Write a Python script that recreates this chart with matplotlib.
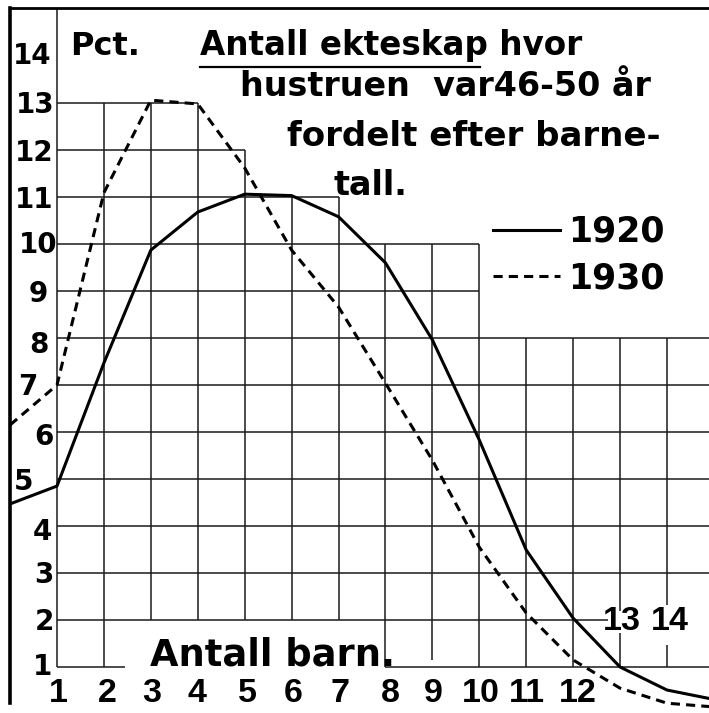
import matplotlib
matplotlib.use('Agg')
import matplotlib.pyplot as plt
from matplotlib import font_manager
from matplotlib.lines import Line2D

# ---------------- data ----------------
children = [0, 1, 2, 3, 4, 5, 6, 7, 8, 9, 10, 11, 12, 13, 14, 15]
pct_1920 = [4.47, 4.85, 7.47, 9.87, 10.68, 11.06, 11.03, 10.58, 9.60, 7.96, 5.83, 3.49, 2.04, 1.00, 0.51, 0.31]
pct_1930 = [6.15, 7.00, 11.09, 13.06, 12.98, 11.62, 9.87, 8.66, 7.04, 5.40, 3.55, 2.15, 1.15, 0.55, 0.23, 0.15]
series_labels = ["1920", "1930"]
y_tick_labels = ["1", "2", "3", "4", "5", "6", "7", "8", "9", "10", "11", "12", "13", "14"]
x_tick_labels = ["1", "2", "3", "4", "5", "6", "7", "8", "9", "10", "11", "12"]
x_tick_labels_upper = ["13", "14"]
unit_label = "Pct."
x_axis_label = "Antall barn."
title_lines = ["Antall ekteskap hvor", "hustruen  var46-50 år", "fordelt efter barne-", "tall."]

# ---------------- layout ----------------
W, H = 709, 713
fig = plt.figure(figsize=(W / 100, H / 100), dpi=100)
fig.patch.set_facecolor('white')

X0PX = 10.08      # pixel of x = 0
XU = 46.92        # pixels per x unit
Y1PX = 667.0      # pixel of y = 1
YU = 47.0         # pixels per y unit
TOPPX = 8.0

xmax = (W - X0PX) / XU
ymin = 1 - (H - Y1PX) / YU
ymax = 1 + (Y1PX - TOPPX) / YU

ax = fig.add_axes([X0PX / W, 0, 1 - X0PX / W, (H - TOPPX) / H])
ax.set_xlim(0, xmax)
ax.set_ylim(ymin, ymax)
ax.set_xticks([])
ax.set_yticks([])
ax.patch.set_alpha(0)
for s in ['right', 'bottom']:
    ax.spines[s].set_visible(False)
ax.spines['left'].set_linewidth(2.6)
ax.spines['top'].set_linewidth(2.0)
ax.spines['left'].set_bounds(0.23, ymax)


def fx(px):
    return px / W


def fy(py):
    return 1 - py / H


names = {f.name for f in font_manager.fontManager.ttflist}
BOLD = 'DejaVu Sans'
NUMFAM = ['Liberation Sans', 'DejaVu Sans'] if 'Liberation Sans' in names else ['DejaVu Sans']
XFS = 24.5
XH = 0.716

# ---------------- grid (stepped) ----------------
gcol = '#1a1a1a'
glw = 1.1
vsegs = [(1, 1, ymax), (2, 1, 13), (3, 2, 13), (4, 2, 13), (5, 2, 12), (6, 2, 11),
         (7, 2, 11), (8, 1, 10), (9, 1.15, 10), (10, 1, 10), (11, 1, 8), (12, 1, 8),
         (13, 1, 1.72), (13, 2.2, 8), (14, 1, 1.47), (14, 2.32, 8)]
for x, a, b in vsegs:
    ax.vlines(x, a, b, color=gcol, lw=glw, zorder=1)
hsegs = [(13, 1, 4), (12, 1, 5), (11, 1, 7), (10, 1, 10), (9, 1, 10)] + \
        [(y, 1, xmax) for y in (8, 7, 6, 5, 4, 3)] + \
        [(2, 1, 12.74), (1, 1, 2.45), (1, 8, xmax)]
for y, a, b in hsegs:
    ax.hlines(y, a, b, color=gcol, lw=glw, zorder=1)

# ---------------- curves ----------------
l1, = ax.plot(children, pct_1920, color='black', lw=2.2, solid_joinstyle='round',
              zorder=3, label=series_labels[0])
l2, = ax.plot(children, pct_1930, color='black', lw=2.2, dashes=(3.0, 2.0),
              zorder=3, label=series_labels[1])

leg = ax.legend(handles=[l1, l2], labels=series_labels, loc='upper left',
                bbox_to_anchor=(fx(493), fy(215)), bbox_transform=fig.transFigure,
                frameon=False, borderpad=0, borderaxespad=0, handlelength=1.93,
                handletextpad=0.23, labelspacing=0.36,
                prop={'family': BOLD, 'weight': 'bold', 'size': 25})

# ---------------- tick labels ----------------
ytl_pos = {"14": (32, 54), "13": (35, 103), "12": (34, 151), "11": (34, 198),
           "10": (38, 243), "9": (38, 292), "8": (39, 343), "7": (28, 385),
           "6": (44, 435), "5": (24, 480), "4": (42, 530), "3": (44, 573),
           "2": (44, 620), "1": (43, 665)}
YFS = 20
for lab in y_tick_labels:
    cx, cy = ytl_pos[lab]
    fig.text(fx(cx), fy(cy + 0.729 * YFS * 100 / 72 / 2), lab, ha='center', va='baseline',
             family=BOLD, weight='bold', fontsize=YFS)

xtl_px = [58, 107, 152, 197, 247, 293, 340, 390, 433, 481, 527, 578]
xb = 690 + XH * XFS * 100 / 72 / 2
for lab, cx in zip(x_tick_labels, xtl_px):
    fig.text(fx(cx), fy(xb), lab, ha='center', va='baseline',
             family=NUMFAM, weight='bold', fontsize=XFS)
for lab, cx in zip(x_tick_labels_upper, [622, 670]):
    fig.text(fx(cx), fy(618 + XH * XFS * 100 / 72 / 2), lab, ha='center', va='baseline',
             family=NUMFAM, weight='bold', fontsize=XFS)

fig.text(fx(150), fy(665), x_axis_label, ha='left', va='baseline',
         family=BOLD, weight='bold', fontsize=26.5)

# ---------------- title ----------------
fig.text(fx(70), fy(55), unit_label, ha='left', va='baseline',
         family=BOLD, weight='bold', fontsize=23)
title_pos = [(200, 55, 23.5), (240, 96, 24), (287, 146, 24.5), (333, 195, 24)]
for txt, (x, y, fs) in zip(title_lines, title_pos):
    fig.text(fx(x), fy(y), txt, ha='left', va='baseline',
             family=BOLD, weight='bold', fontsize=fs)
fig.add_artist(Line2D([fx(200), fx(480)], [fy(67), fy(67)], color='black', lw=1.6))

fig.savefig('out.png', dpi=100, facecolor='white')
